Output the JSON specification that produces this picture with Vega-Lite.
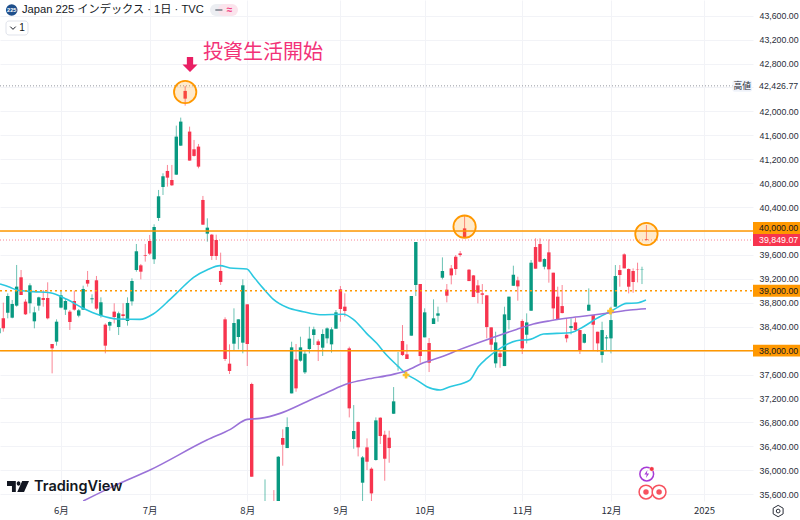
{
"$schema":"https://vega.github.io/schema/vega-lite/v6.json",
"width":753,"height":501,"autosize":{"type":"none"},"padding":{"left":0,"top":0,"right":47,"bottom":19},
"background":"#ffffff",
"config":{"view":{"stroke":null},"font":"Liberation Sans","text":{"font":"Liberation Sans"}},
"datasets":{
"candles":[
{"bar":-1,"dir":"up","open":38289,"high":38430,"low":38260,"close":38373},
{"bar":0,"dir":"down","open":38540,"high":38802,"low":38317,"close":38373},
{"bar":1,"dir":"up","open":38635,"high":38958,"low":38540,"close":38914},
{"bar":2,"dir":"up","open":38551,"high":38847,"low":38540,"close":38780},
{"bar":3,"dir":"up","open":38752,"high":39432,"low":38735,"close":39070},
{"bar":4,"dir":"down","open":39226,"high":39348,"low":38930,"close":38930},
{"bar":5,"dir":"down","open":38819,"high":38858,"low":38596,"close":38607},
{"bar":6,"dir":"up","open":38791,"high":39125,"low":38624,"close":39092},
{"bar":7,"dir":"up","open":38490,"high":38735,"low":38373,"close":38640},
{"bar":8,"dir":"up","open":38752,"high":38902,"low":38668,"close":38891},
{"bar":9,"dir":"down","open":38880,"high":39014,"low":38735,"close":38847},
{"bar":10,"dir":"down","open":38880,"high":39142,"low":38523,"close":38540},
{"bar":11,"dir":"down","open":38111,"high":38111,"low":37620,"close":38038},
{"bar":12,"dir":"up","open":38150,"high":38523,"low":38083,"close":38484},
{"bar":13,"dir":"up","open":38719,"high":39014,"low":38707,"close":38925},
{"bar":14,"dir":"up","open":38685,"high":38875,"low":38596,"close":38830},
{"bar":15,"dir":"down","open":38652,"high":38680,"low":38345,"close":38479},
{"bar":16,"dir":"down","open":38830,"high":39003,"low":38668,"close":38685},
{"bar":17,"dir":"up","open":38585,"high":38696,"low":38557,"close":38674},
{"bar":18,"dir":"up","open":38685,"high":39086,"low":38680,"close":39031},
{"bar":19,"dir":"down","open":39181,"high":39332,"low":39070,"close":39120},
{"bar":20,"dir":"up","open":38858,"high":38941,"low":38791,"close":38875},
{"bar":21,"dir":"down","open":39176,"high":39248,"low":38680,"close":38702},
{"bar":22,"dir":"up","open":38579,"high":38891,"low":38551,"close":38808},
{"bar":23,"dir":"down","open":38434,"high":38456,"low":37955,"close":38083},
{"bar":24,"dir":"up","open":38417,"high":38490,"low":38334,"close":38479},
{"bar":25,"dir":"down","open":38652,"high":38791,"low":38456,"close":38562},
{"bar":26,"dir":"up","open":38395,"high":38652,"low":38261,"close":38624},
{"bar":27,"dir":"down","open":38607,"high":38791,"low":38512,"close":38579},
{"bar":28,"dir":"up","open":38496,"high":38891,"low":38418,"close":38797},
{"bar":29,"dir":"up","open":38824,"high":39209,"low":38752,"close":39164},
{"bar":30,"dir":"up","open":39348,"high":39783,"low":39320,"close":39661},
{"bar":31,"dir":"down","open":39426,"high":39449,"low":39192,"close":39320},
{"bar":32,"dir":"down","open":39599,"high":39783,"low":39488,"close":39588},
{"bar":33,"dir":"down","open":39833,"high":39934,"low":39599,"close":39622},
{"bar":34,"dir":"up","open":39527,"high":40112,"low":39449,"close":40067},
{"bar":35,"dir":"up","open":40218,"high":40686,"low":40168,"close":40580},
{"bar":36,"dir":"up","open":40736,"high":40965,"low":40602,"close":40915},
{"bar":37,"dir":"down","open":41004,"high":41104,"low":40742,"close":40892},
{"bar":38,"dir":"down","open":40853,"high":41104,"low":40753,"close":40764},
{"bar":39,"dir":"up","open":40942,"high":41762,"low":40937,"close":41578},
{"bar":40,"dir":"up","open":41427,"high":41896,"low":41422,"close":41829},
{"bar":41,"dir":"down","open":42342,"high":42425,"low":42096,"close":42213},
{"bar":42,"dir":"down","open":41662,"high":41745,"low":41177,"close":41177},
{"bar":43,"dir":"down","open":41366,"high":41522,"low":41244,"close":41255},
{"bar":44,"dir":"down","open":41411,"high":41455,"low":41048,"close":41076},
{"bar":45,"dir":"down","open":40519,"high":40586,"low":40101,"close":40106},
{"bar":46,"dir":"up","open":39956,"high":40212,"low":39822,"close":40056},
{"bar":47,"dir":"down","open":39939,"high":39950,"low":39516,"close":39582},
{"bar":48,"dir":"down","open":39850,"high":39939,"low":39516,"close":39582},
{"bar":49,"dir":"down","open":39332,"high":39638,"low":39098,"close":39148},
{"bar":50,"dir":"down","open":38523,"high":38557,"low":37827,"close":37860},
{"bar":51,"dir":"down","open":37782,"high":38105,"low":37609,"close":37660},
{"bar":52,"dir":"up","open":38116,"high":38707,"low":38011,"close":38462},
{"bar":53,"dir":"up","open":38228,"high":38523,"low":38022,"close":38523},
{"bar":54,"dir":"up","open":38133,"high":39192,"low":37955,"close":39092},
{"bar":55,"dir":"down","open":38774,"high":38774,"low":37743,"close":38111},
{"bar":56,"dir":"down","open":37442,"high":37464,"low":35892,"close":35892},
{"bar":57,"dir":"down","open":35249,"high":35301,"low":31156,"close":31458},
{"bar":58,"dir":"up","open":32077,"high":34911,"low":31180,"close":34675},
{"bar":59,"dir":"up","open":34000,"high":35847,"low":33500,"close":35090},
{"bar":60,"dir":"down","open":35000,"high":35400,"low":34200,"close":34830},
{"bar":61,"dir":"down","open":35400,"high":35669,"low":34900,"close":35000},
{"bar":62,"dir":"up","open":35100,"high":36238,"low":35080,"close":36226},
{"bar":63,"dir":"down","open":36539,"high":36684,"low":36076,"close":36427},
{"bar":64,"dir":"up","open":36371,"high":36884,"low":36371,"close":36722},
{"bar":65,"dir":"up","open":37285,"high":38149,"low":37285,"close":38055},
{"bar":66,"dir":"down","open":37854,"high":38111,"low":37313,"close":37369},
{"bar":67,"dir":"up","open":37832,"high":38233,"low":37815,"close":38055},
{"bar":68,"dir":"up","open":37637,"high":37993,"low":37609,"close":37949},
{"bar":69,"dir":"up","open":38027,"high":38400,"low":37954,"close":38200},
{"bar":70,"dir":"up","open":38261,"high":38400,"low":38094,"close":38356},
{"bar":71,"dir":"down","open":38155,"high":38188,"low":37826,"close":38094},
{"bar":72,"dir":"up","open":38049,"high":38356,"low":37910,"close":38278},
{"bar":73,"dir":"up","open":38205,"high":38389,"low":38122,"close":38372},
{"bar":74,"dir":"up","open":38105,"high":38389,"low":37966,"close":38356},
{"bar":75,"dir":"up","open":38367,"high":38679,"low":38367,"close":38640},
{"bar":76,"dir":"down","open":39025,"high":39080,"low":38484,"close":38696},
{"bar":77,"dir":"down","open":38735,"high":38958,"low":38568,"close":38662},
{"bar":78,"dir":"down","open":38038,"high":38066,"low":36884,"close":37035},
{"bar":79,"dir":"up","open":36522,"high":37090,"low":36360,"close":36656},
{"bar":80,"dir":"down","open":36806,"high":36817,"low":36232,"close":36383},
{"bar":81,"dir":"up","open":35792,"high":36238,"low":35474,"close":36215},
{"bar":82,"dir":"down","open":36383,"high":36533,"low":36003,"close":36143},
{"bar":83,"dir":"down","open":36026,"high":36048,"low":35474,"close":35613},
{"bar":84,"dir":"up","open":36171,"high":36884,"low":36160,"close":36834},
{"bar":85,"dir":"down","open":36879,"high":36884,"low":36438,"close":36572},
{"bar":86,"dir":"down","open":36594,"high":36661,"low":35825,"close":36193},
{"bar":87,"dir":"down","open":36544,"high":36661,"low":36126,"close":36371},
{"bar":88,"dir":"up","open":36945,"high":37391,"low":36940,"close":37152},
{"bar":89,"dir":"up","open":37726,"high":37977,"low":37665,"close":37731},
{"bar":90,"dir":"down","open":38161,"high":38428,"low":37910,"close":37926},
{"bar":91,"dir":"down","open":37938,"high":38105,"low":37860,"close":37860},
{"bar":92,"dir":"up","open":38250,"high":38913,"low":38250,"close":38913},
{"bar":93,"dir":"up","open":39097,"high":39816,"low":38913,"close":39816},
{"bar":94,"dir":"down","open":39114,"high":39114,"low":37798,"close":37910},
{"bar":95,"dir":"up","open":38222,"high":38707,"low":38222,"close":38640},
{"bar":96,"dir":"down","open":38127,"high":38211,"low":37642,"close":37798},
{"bar":97,"dir":"up","open":38445,"high":38857,"low":38445,"close":38540},
{"bar":98,"dir":"up","open":38584,"high":38735,"low":38484,"close":38623},
{"bar":99,"dir":"up","open":39219,"high":39559,"low":39191,"close":39331},
{"bar":100,"dir":"down","open":39019,"high":39113,"low":38807,"close":38918},
{"bar":101,"dir":"down","open":39375,"high":39431,"low":39108,"close":39258},
{"bar":102,"dir":"down","open":39570,"high":39598,"low":39264,"close":39364},
{"bar":103,"dir":"down","open":39626,"high":39665,"low":39570,"close":39598},
{"bar":104,"dir":"down","open":40044,"high":40250,"low":39894,"close":39894},
{"bar":105,"dir":"down","open":39353,"high":39364,"low":39163,"close":39163},
{"bar":106,"dir":"down","open":39258,"high":39264,"low":38896,"close":38896},
{"bar":107,"dir":"down","open":39091,"high":39180,"low":38790,"close":38968},
{"bar":108,"dir":"down","open":38957,"high":39113,"low":38779,"close":38935},
{"bar":109,"dir":"down","open":38924,"high":38929,"low":38205,"close":38394},
{"bar":110,"dir":"down","open":38389,"high":38389,"low":37982,"close":38099},
{"bar":111,"dir":"up","open":37787,"high":38316,"low":37714,"close":38138},
{"bar":112,"dir":"down","open":37954,"high":38010,"low":37714,"close":37893},
{"bar":113,"dir":"up","open":37742,"high":38734,"low":37742,"close":38606},
{"bar":114,"dir":"up","open":38511,"high":38902,"low":38355,"close":38902},
{"bar":115,"dir":"up","open":39085,"high":39420,"low":39080,"close":39269},
{"bar":116,"dir":"down","open":39175,"high":39236,"low":38835,"close":39074},
{"bar":117,"dir":"down","open":38495,"high":38523,"low":37943,"close":38038},
{"bar":118,"dir":"up","open":38266,"high":38623,"low":38121,"close":38472},
{"bar":119,"dir":"up","open":38667,"high":39515,"low":38667,"close":39470},
{"bar":120,"dir":"down","open":39732,"high":39877,"low":39370,"close":39370},
{"bar":121,"dir":"down","open":39782,"high":39877,"low":39476,"close":39487},
{"bar":122,"dir":"up","open":39403,"high":39543,"low":39359,"close":39531},
{"bar":123,"dir":"down","open":39643,"high":39860,"low":39136,"close":39359},
{"bar":124,"dir":"down","open":39303,"high":39303,"low":38522,"close":38706},
{"bar":125,"dir":"down","open":38902,"high":39069,"low":38522,"close":38528},
{"bar":126,"dir":"down","open":38745,"high":39097,"low":38623,"close":38628},
{"bar":127,"dir":"down","open":38266,"high":38539,"low":38138,"close":38205},
{"bar":128,"dir":"up","open":38378,"high":38539,"low":38272,"close":38411},
{"bar":129,"dir":"down","open":38472,"high":38556,"low":38316,"close":38344},
{"bar":130,"dir":"down","open":38344,"high":38344,"low":37943,"close":38010},
{"bar":131,"dir":"up","open":38132,"high":38288,"low":38121,"close":38277},
{"bar":132,"dir":"up","open":38667,"high":39041,"low":38667,"close":38768},
{"bar":133,"dir":"down","open":38595,"high":38595,"low":38000,"close":38433},
{"bar":134,"dir":"down","open":38316,"high":38316,"low":37982,"close":38121},
{"bar":135,"dir":"up","open":37926,"high":38483,"low":37798,"close":38344},
{"bar":136,"dir":"up","open":38205,"high":38260,"low":38000,"close":38222},
{"bar":137,"dir":"up","open":38205,"high":38734,"low":37954,"close":38511},
{"bar":138,"dir":"up","open":38734,"high":39431,"low":38734,"close":39247},
{"bar":139,"dir":"down","open":39347,"high":39431,"low":39069,"close":39264},
{"bar":140,"dir":"down","open":39609,"high":39626,"low":39375,"close":39375},
{"bar":141,"dir":"down","open":39364,"high":39375,"low":38957,"close":39069},
{"bar":142,"dir":"down","open":39331,"high":39375,"low":38968,"close":39147},
{"bar":143,"dir":"down","open":39364,"high":39470,"low":39141,"close":39359},
{"bar":144,"dir":"up","open":39359,"high":39403,"low":39113,"close":39364},
{"bar":145,"dir":"down","open":39860,"high":40100,"low":39840,"close":39849}
],
"ma":[
{"bar":-0.75,"price":39114,"s":"short"},{"bar":1.5,"price":39059,"s":"short"},{"bar":3,"price":39014,"s":"short"},{"bar":6.8,"price":38986,"s":"short"},{"bar":10.5,"price":38969,"s":"short"},{"bar":14.3,"price":38858,"s":"short"},{"bar":18,"price":38707,"s":"short"},{"bar":21.8,"price":38590,"s":"short"},{"bar":25.6,"price":38529,"s":"short"},{"bar":30.8,"price":38523,"s":"short"},{"bar":33.8,"price":38613,"s":"short"},{"bar":37.6,"price":38858,"s":"short"},{"bar":39.8,"price":39014,"s":"short"},{"bar":42.9,"price":39226,"s":"short"},{"bar":45.9,"price":39348,"s":"short"},{"bar":48.9,"price":39421,"s":"short"},{"bar":51.1,"price":39382,"s":"short"},{"bar":54.9,"price":39365,"s":"short"},{"bar":56.4,"price":39236,"s":"short"},{"bar":58.6,"price":39041,"s":"short"},{"bar":60.9,"price":38857,"s":"short"},{"bar":63.9,"price":38724,"s":"short"},{"bar":67.6,"price":38651,"s":"short"},{"bar":71.4,"price":38601,"s":"short"},{"bar":76.7,"price":38607,"s":"short"},{"bar":78.9,"price":38523,"s":"short"},{"bar":81.9,"price":38289,"s":"short"},{"bar":84.2,"price":38122,"s":"short"},{"bar":86.4,"price":37926,"s":"short"},{"bar":88.7,"price":37759,"s":"short"},{"bar":90.9,"price":37609,"s":"short"},{"bar":93.2,"price":37508,"s":"short"},{"bar":95.5,"price":37397,"s":"short"},{"bar":98.5,"price":37341,"s":"short"},{"bar":100.7,"price":37397,"s":"short"},{"bar":105.2,"price":37508,"s":"short"},{"bar":107.1,"price":37731,"s":"short"},{"bar":109,"price":37870,"s":"short"},{"bar":112,"price":38038,"s":"short"},{"bar":115.7,"price":38166,"s":"short"},{"bar":118.8,"price":38188,"s":"short"},{"bar":121.8,"price":38277,"s":"short"},{"bar":124.8,"price":38288,"s":"short"},{"bar":127.8,"price":38300,"s":"short"},{"bar":130.8,"price":38400,"s":"short"},{"bar":133.8,"price":38539,"s":"short"},{"bar":137.5,"price":38679,"s":"short"},{"bar":140.5,"price":38790,"s":"short"},{"bar":142.8,"price":38796,"s":"short"},{"bar":144.9,"price":38846,"s":"short"},
{"bar":18,"price":35486,"s":"long"},{"bar":25.6,"price":35760,"s":"long"},{"bar":33.07,"price":36004,"s":"long"},{"bar":45.9,"price":36505,"s":"long"},{"bar":51.2,"price":36684,"s":"long"},{"bar":55,"price":36851,"s":"long"},{"bar":57.9,"price":36867,"s":"long"},{"bar":62.4,"price":36951,"s":"long"},{"bar":68.4,"price":37146,"s":"long"},{"bar":72.9,"price":37297,"s":"long"},{"bar":77.9,"price":37453,"s":"long"},{"bar":81.9,"price":37520,"s":"long"},{"bar":87.9,"price":37603,"s":"long"},{"bar":90.9,"price":37665,"s":"long"},{"bar":94.7,"price":37798,"s":"long"},{"bar":98.5,"price":37888,"s":"long"},{"bar":103,"price":38021,"s":"long"},{"bar":110.5,"price":38222,"s":"long"},{"bar":115.7,"price":38355,"s":"long"},{"bar":119.5,"price":38444,"s":"long"},{"bar":123.3,"price":38500,"s":"long"},{"bar":127.8,"price":38550,"s":"long"},{"bar":133,"price":38595,"s":"long"},{"bar":137.5,"price":38640,"s":"long"},{"bar":141.3,"price":38679,"s":"long"},{"bar":144.9,"price":38701,"s":"long"}
]
},
"encoding":{
"x":{"field":"bar","type":"quantitative","title":null,"scale":{"domain":[-0.75,169.03],"nice":false,"zero":false,"padding":0},
 "axis":{"orient":"bottom","values":[13,33,55,76,95,117,137,158],"labelExpr":"datum.value==13?'6月':datum.value==33?'7月':datum.value==55?'8月':datum.value==76?'9月':datum.value==95?'10月':datum.value==117?'11月':datum.value==137?'12月':'2025'","grid":true,"gridColor":"#f2f3f7","domain":false,"ticks":false,"labelFont":"Noto Sans CJK JP","labelFontSize":9.5,"labelColor":"#2a2e39","labelPadding":4}},
"y":{"field":"price","type":"quantitative","title":null,"scale":{"domain":[35486,43862],"nice":false,"zero":false},
 "axis":{"orient":"right","values":[35600,36000,36400,36800,37200,37600,38000,38400,38800,39200,39600,40000,40400,40800,41200,41600,42000,42400,42800,43200,43600],"format":",.2f","labelExpr":"datum.value==38000||datum.value==39000||datum.value==40000||datum.value==42400?'':datum.label","grid":true,"gridColor":"#f2f3f7","domain":false,"ticks":false,"labelFont":"Liberation Sans","labelFontSize":8.8,"labelColor":"#2a2e39","labelPadding":6}}
},
"layer":[
{"data":{"name":"candles"},"mark":{"type":"rule","clip":true,"strokeWidth":1,"opacity":0.6},
 "encoding":{"y":{"field":"high","type":"quantitative","scale":{"domain":[35486,43862],"nice":false,"zero":false}},"y2":{"field":"low"},"color":{"field":"dir","type":"nominal","scale":{"domain":["up","down"],"range":["#089981","#f7344e"]},"legend":null}}},
{"data":{"name":"candles"},"mark":{"type":"bar","clip":true,"size":3.4},
 "encoding":{"y":{"field":"open","type":"quantitative","scale":{"domain":[35486,43862],"nice":false,"zero":false}},"y2":{"field":"close"},"color":{"field":"dir","type":"nominal","legend":null}}},
{"data":{"name":"ma"},"transform":[{"filter":"datum.s=='short'"}],"mark":{"type":"line","clip":true,"interpolate":"monotone","strokeWidth":1.6,"stroke":"#2bc8e0"},"encoding":{"order":{"field":"bar","type":"quantitative"}}},
{"data":{"name":"ma"},"transform":[{"filter":"datum.s=='long'"}],"mark":{"type":"line","clip":true,"interpolate":"monotone","strokeWidth":1.6,"stroke":"#9a72d8"},"encoding":{"order":{"field":"bar","type":"quantitative"}}},
{"data":{"values":[{"bar":-0.75,"bar2":165,"price":42426.77}]},"mark":{"type":"rule","stroke":"#9598a1","strokeWidth":1,"strokeDash":[1,2]},"encoding":{"x2":{"field":"bar2"}}},
{"data":{"values":[{"bar":-0.75,"bar2":169.03,"price":39849.07}]},"mark":{"type":"rule","stroke":"#f7344e","strokeOpacity":0.6,"strokeWidth":1,"strokeDash":[1,2]},"encoding":{"x2":{"field":"bar2"}}},
{"data":{"values":[{"bar":-0.75,"bar2":169.03,"price":39000}]},"mark":{"type":"rule","stroke":"#ff9800","strokeWidth":1.5,"strokeDash":[2,3]},"encoding":{"x2":{"field":"bar2"}}},
{"data":{"values":[{"bar":-0.75,"bar2":169.03,"price":40000},{"bar":-0.75,"bar2":169.03,"price":38000}]},"mark":{"type":"rule","stroke":"#ff9800","strokeWidth":1.5},"encoding":{"x2":{"field":"bar2"}}},
{"data":{"values":[{"bar":41,"price":42324},{"bar":104,"price":40072},{"bar":145,"price":39950}]},"mark":{"type":"point","shape":"circle","filled":true,"opacity":1,"size":500,"fill":"#ff9800","fillOpacity":0.2,"stroke":"#ff9800","strokeWidth":1.8}},
{"data":{"values":[{"bar":169.03,"bar2":180,"price":40150,"price2":39950,"bg":"#ff9800"},{"bar":169.03,"bar2":180,"price":39949,"price2":39749,"bg":"#f7344e"},{"bar":169.03,"bar2":180,"price":39100,"price2":38900,"bg":"#ff9800"},{"bar":169.03,"bar2":180,"price":38100,"price2":37900,"bg":"#ff9800"}]},"mark":{"type":"rect"},"encoding":{"x2":{"field":"bar2"},"y2":{"field":"price2"},"color":{"field":"bg","type":"nominal","scale":null}}},
{"data":{"values":[{"bar":170.4,"price":40050,"label":"40,000.00","fg":"#131722"},{"bar":170.4,"price":39849.07,"label":"39,849.07","fg":"#ffffff"},{"bar":170.4,"price":39000,"label":"39,000.00","fg":"#131722"},{"bar":170.4,"price":38000,"label":"38,000.00","fg":"#131722"},{"bar":170.4,"price":42426.77,"label":"42,426.77","fg":"#2a2e39"}]},"mark":{"type":"text","align":"left","baseline":"middle","fontSize":8.8,"font":"Liberation Sans"},"encoding":{"text":{"field":"label"},"color":{"field":"fg","type":"nominal","scale":null}}},
{"data":{"values":[{"bar":164.4,"bar2":168.8,"price":42520,"price2":42330}]},"mark":{"type":"rect","fill":"#f0f3fa","cornerRadius":2},"encoding":{"x2":{"field":"bar2"},"y2":{"field":"price2"}}},
{"data":{"values":[{"bar":166.6,"price":42426.77,"label":"高値"}]},"mark":{"type":"text","align":"center","baseline":"middle","fontSize":8.8,"font":"Noto Sans CJK JP","color":"#2a2e39"},"encoding":{"text":{"field":"label"}}},
{"data":{"values":[{"bar":45.02,"price":42976,"label":"投資生活開始"}]},"mark":{"type":"text","align":"left","baseline":"middle","fontSize":20,"font":"Noto Sans CJK JP","color":"#f23278"},"encoding":{"text":{"field":"label"}}},
{"data":{"values":[{"bar":42.09,"price":42784}]},"mark":{"type":"point","filled":true,"opacity":1,"size":225,"fill":"#e91e63","stroke":null,"shape":"M-0.42,-1L0.42,-1L0.42,0L1,0L0,1L-1,0L-0.42,0Z"}},
{"data":{"values":[{"bar":90.8,"price":37592},{"bar":136.9,"price":38662}]},"mark":{"type":"point","shape":"cross","filled":true,"opacity":1,"size":45,"fill":"#fbc02d","stroke":null}},
{"data":{"values":[{"bar":4.21,"price":43695,"label":"Japan 225 インデックス · 1日 · TVC"}]},"mark":{"type":"text","align":"left","baseline":"middle","fontSize":11.2,"font":"Liberation Sans, Noto Sans CJK JP","color":"#131722"},"encoding":{"text":{"field":"label"}}},
{"data":{"values":[{"bar":1.89,"price":43695}]},"mark":{"type":"point","shape":"circle","filled":true,"opacity":1,"size":135,"fill":"#1e4f8c","stroke":null}},
{"data":{"values":[{"bar":1.89,"price":43695,"label":"225"}]},"mark":{"type":"text","align":"center","baseline":"middle","fontSize":5.5,"fontWeight":"bold","color":"#ffffff"},"encoding":{"text":{"field":"label"}}},
{"data":{"values":[{"bar":47.95,"bar2":49.75,"price":43695}]},"mark":{"type":"rule","stroke":"#eceef2","strokeWidth":12,"strokeCap":"round"},"encoding":{"x2":{"field":"bar2"}}},
{"data":{"values":[{"bar":49.75,"bar2":51.56,"price":43695}]},"mark":{"type":"rule","stroke":"#fbe4ec","strokeWidth":12,"strokeCap":"round"},"encoding":{"x2":{"field":"bar2"}}},
{"data":{"values":[{"bar":47.8,"bar2":49.4,"price":43695}]},"mark":{"type":"rule","stroke":"#9598a1","strokeWidth":2},"encoding":{"x2":{"field":"bar2"}}},
{"data":{"values":[{"bar":51,"price":43695,"label":"≈"}]},"mark":{"type":"text","align":"center","baseline":"middle","fontSize":10,"fontWeight":"bold","color":"#f23278"},"encoding":{"text":{"field":"label"}}},
{"data":{"values":[{"bar":0.6,"bar2":5.56,"price":43511,"price2":43277}]},"mark":{"type":"rect","fill":"#ffffff","stroke":"#e0e3eb","strokeWidth":1,"cornerRadius":3},"encoding":{"x2":{"field":"bar2"},"y2":{"field":"price2"}}},
{"data":{"values":[{"bar":2.18,"price":43394}]},"mark":{"type":"point","filled":false,"opacity":1,"size":30,"stroke":"#131722","strokeWidth":1,"shape":"M-1,-0.5L0,0.5L1,-0.5"}},
{"data":{"values":[{"bar":4.21,"price":43394,"label":"1"}]},"mark":{"type":"text","align":"center","baseline":"middle","fontSize":10,"color":"#131722"},"encoding":{"text":{"field":"label"}}},
{"data":{"values":[{"bar":145.07,"price":35937}]},"mark":{"type":"point","shape":"circle","filled":false,"opacity":1,"size":190,"stroke":"#a63ad6","strokeWidth":1.5}},
{"data":{"values":[{"bar":145.07,"price":35937}]},"mark":{"type":"point","filled":true,"opacity":1,"size":64,"fill":"#a63ad6","stroke":null,"shape":"M0.2,-1L-0.6,0.15H0L-0.2,1L0.6,-0.15H0Z"}},
{"data":{"values":[{"bar":146.2,"price":36021}]},"mark":{"type":"point","shape":"circle","filled":true,"opacity":1,"size":22,"fill":"#f23645","stroke":"#ffffff","strokeWidth":0.5}},
{"data":{"values":[{"bar":144.9,"price":35636},{"bar":147.85,"price":35636}]},"mark":{"type":"point","shape":"circle","filled":true,"opacity":1,"size":190,"fill":"#ffffff","stroke":"#f7525f","strokeWidth":1.5}},
{"data":{"values":[{"bar":144.9,"price":35636},{"bar":147.85,"price":35636}]},"mark":{"type":"point","shape":"circle","filled":true,"opacity":1,"size":30,"fill":"#f7525f","stroke":null}},
{"data":{"values":[{"bar":174.7,"price":35318}]},"mark":{"type":"point","filled":false,"opacity":1,"size":130,"stroke":"#2a2e39","strokeWidth":1,"shape":"M0,-1L0.87,-0.5V0.5L0,1L-0.87,0.5V-0.5Z"}},
{"data":{"values":[{"bar":174.7,"price":35318}]},"mark":{"type":"point","shape":"circle","filled":false,"opacity":1,"size":14,"stroke":"#2a2e39","strokeWidth":1}},
{"data":{"values":[{"bar":3.31,"price":35728}]},"mark":{"type":"point","filled":true,"opacity":1,"size":484,"fill":"#131722","stroke":null,"shape":"M-1,-0.5H-0.2V0.5H-0.55V-0.05H-1Z M-0.12,-0.28a0.17,0.2 0 1 0 0.34,0a0.17,0.2 0 1 0 -0.34,0Z M0.38,-0.5H1L0.55,0.5H-0.07Z"}},
{"data":{"values":[{"bar":6.92,"price":35728,"label":"TradingView"}]},"mark":{"type":"text","align":"left","baseline":"middle","fontSize":14.5,"font":"Inter","fontWeight":600,"color":"#131722"},"encoding":{"text":{"field":"label"}}}
]
}
